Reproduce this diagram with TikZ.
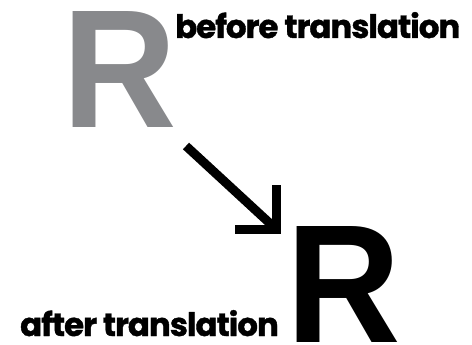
\documentclass[tikz,border=0pt]{standalone}
\usepackage{fontspec}
\usetikzlibrary{calc}
\newfontfamily\letterfont{Liberation Sans}
\newfontfamily\labelfont{Poppins}[LetterSpace=-3, FakeBold=1.2]
\definecolor{lettergray}{RGB}{136,137,140}
% a bold R, 116pt tall, slightly narrowed
\newcommand{\bigR}{\resizebox{!}{116pt}{\scalebox{0.94}[1]{\letterfont\bfseries R}}}
\begin{document}
\begin{tikzpicture}[x=1pt,y=-1pt,
  bigletter/.style={inner sep=0pt, anchor=base west,
    font=\letterfont\bfseries\fontsize{162}{162}\selectfont},
  caption/.style={inner sep=0pt, anchor=base west,
    font=\labelfont\bfseries\fontsize{32.4}{32.4}\selectfont},
  move/.style={line width=9pt, black}]
\useasboundingbox (0,0) rectangle (472,345);
% the letter before and after the shift
\node[bigletter, text=lettergray] (src) at (62,128) {\bigR};
\node[bigletter, text=black] (dst) at (286,342) {\bigR};
% labels
\node[caption] (srclabel) at (175,38) {before translation};
\node[caption] (dstlabel) at (20,336) {after translation};
% translation arrow with an open right-angled head
\coordinate (start) at (186,146);
\coordinate (tip) at (276,229);
\draw[move] (start) -- (tip);
\draw[move, miter limit=10] ($(tip)+(0,-44)$) -- (tip) -- ($(tip)+(-41,0)$);
\end{tikzpicture}
\end{document}
